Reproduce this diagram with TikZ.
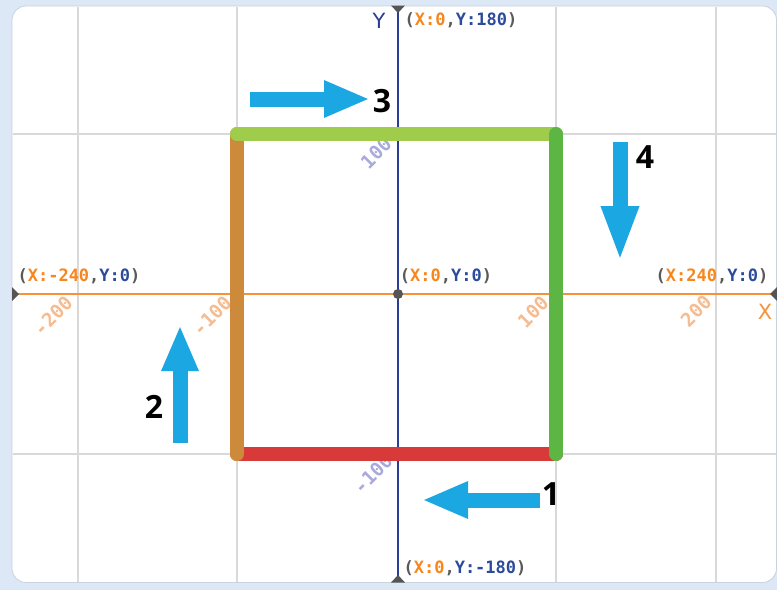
\documentclass[tikz,border=0pt]{standalone}
\usepackage{fontspec}
\usetikzlibrary{arrows.meta}
\newfontfamily\coordfont{DejaVu Sans Mono}
\newfontfamily\numfont{Open Sans}
\newfontfamily\axfont{DejaVu Sans}
\definecolor{framebg}{HTML}{DCE8F5}
\definecolor{frameedge}{HTML}{C9D3DE}
\definecolor{gridgray}{HTML}{D9D9D9}
\definecolor{xaxis}{HTML}{F7923A}
\definecolor{yaxis}{HTML}{2C3E94}
\definecolor{axgray}{HTML}{555555}
\definecolor{sidered}{HTML}{D83A3A}
\definecolor{sideorange}{HTML}{CC8A3A}
\definecolor{sidelight}{HTML}{9FCD4B}
\definecolor{sidegreen}{HTML}{5DB544}
\definecolor{arrowblue}{HTML}{1BA8E2}
\definecolor{coordorange}{HTML}{F7861C}
\definecolor{coordblue}{HTML}{2B4C9C}
\definecolor{coordgray}{HTML}{5A5A5A}
\definecolor{tickorange}{HTML}{F6BC90}
\definecolor{ticklav}{HTML}{A9A9DD}
\tikzset{
  gridline/.style={draw=gridgray, line width=1.6},
  side/.style={line width=14, line cap=round},
  move/.style={draw=arrowblue, line width=15, -{Triangle[length=46pt, width=34pt]}},
  numlab/.style={font=\numfont\bfseries\fontsize{32}{32}\selectfont, text=black, inner sep=0},
  coordlab/.style={font=\coordfont\bfseries\fontsize{17}{17}\selectfont, inner sep=0, text=coordgray},
  ticklab/.style={font=\coordfont\bfseries\fontsize{19}{19}\selectfont, inner sep=0, rotate=45},
  axhead/.style={fill=axgray},
}
\newcommand{\cxy}[2]{(\textcolor{coordorange}{X:#1},\textcolor{coordblue}{Y:#2})}
\begin{document}
\begin{tikzpicture}[x=1pt,y=-1pt]
\useasboundingbox (0,0) rectangle (777,590);
\fill[framebg] (0,0) rectangle (777,590);
\filldraw[fill=white, draw=frameedge, line width=0.8, rounded corners=14] (12,6) rectangle (776.5,582.5);
% grid
\draw[gridline] (78,6.5) -- (78,582);
\draw[gridline] (237,6.5) -- (237,582);
\draw[gridline] (556,6.5) -- (556,582);
\draw[gridline] (716,6.5) -- (716,582);
\draw[gridline] (12.5,134) -- (776,134);
\draw[gridline] (12.5,454) -- (776,454);
% axes
\coordinate (xl) at (12,294);
\coordinate (xr) at (777,294);
\coordinate (yt) at (398,6);
\coordinate (yb) at (398,582);
\coordinate (o) at (398,294);
\draw[xaxis, line width=1.6] (xl) -- (xr);
\draw[yaxis, line width=1.6] (yt) -- (yb);
\fill[axhead] (391,5.5) -- (405,5.5) -- (398,13) -- cycle;
\fill[axhead] (391,582.5) -- (405,582.5) -- (398,575) -- cycle;
\fill[axhead] (12,287) -- (12,301) -- (19,294) -- cycle;
\fill[axhead] (777,287) -- (777,301) -- (770,294) -- cycle;
\fill[axgray] (o) circle (5);
% tick labels
\node[ticklab, text=tickorange] (t1) at (53,316) {-200};
\node[ticklab, text=tickorange] (t2) at (212,316) {-100};
\node[ticklab, text=tickorange] (t3) at (533,312) {100};
\node[ticklab, text=tickorange] (t4) at (696,311) {200};
\node[ticklab, text=ticklav] (t5) at (376,153) {100};
\node[ticklab, text=ticklav] (t6) at (373,474) {-100};
% axis names
\node[font=\axfont\fontsize{21}{21}\selectfont, text=yaxis, inner sep=0] (ylab) at (379,20.5) {Y};
\node[font=\axfont\fontsize{21}{21}\selectfont, text=xaxis, inner sep=0] (xlab) at (765,311.5) {X};
% coordinate labels
\node[coordlab] (c1) at (461,20) {\cxy{0}{180}};
\node[coordlab] (c2) at (79,276) {\cxy{-240}{0}};
\node[coordlab] (c3) at (712,276) {\cxy{240}{0}};
\node[coordlab] (c4) at (446,276) {\cxy{0}{0}};
\node[coordlab] (c5) at (465,568) {\cxy{0}{-180}};
% square
\coordinate (tl) at (237,134);
\coordinate (tr) at (556,134);
\coordinate (br) at (556,454);
\coordinate (bl) at (237,454);
\draw[side, sidered] (br) -- (bl);
\draw[side, sideorange] (bl) -- (tl);
\draw[side, sidelight] (tl) -- (tr);
\draw[side, sidegreen] (tr) -- (br);
% movement arrows
\coordinate (a1s) at (540,500); \coordinate (a1e) at (422,500);
\coordinate (a2s) at (180,443); \coordinate (a2e) at (180,325);
\coordinate (a3s) at (250,99);  \coordinate (a3e) at (370,99);
\coordinate (a4s) at (620,142); \coordinate (a4e) at (620,262);
\draw[move] (a1s) -- (a1e);
\draw[move] (a2s) -- (a2e);
\draw[move] (a3s) -- (a3e);
\draw[move, -{Triangle[length=56pt, width=34pt]}] (a4s) -- (a4e);
\node[numlab] (n1) at (551,494) {1};
\node[numlab] (n2) at (154,407) {2};
\node[numlab] (n3) at (382,101) {3};
\node[numlab] (n4) at (645,157) {4};
\end{tikzpicture}
\end{document}
